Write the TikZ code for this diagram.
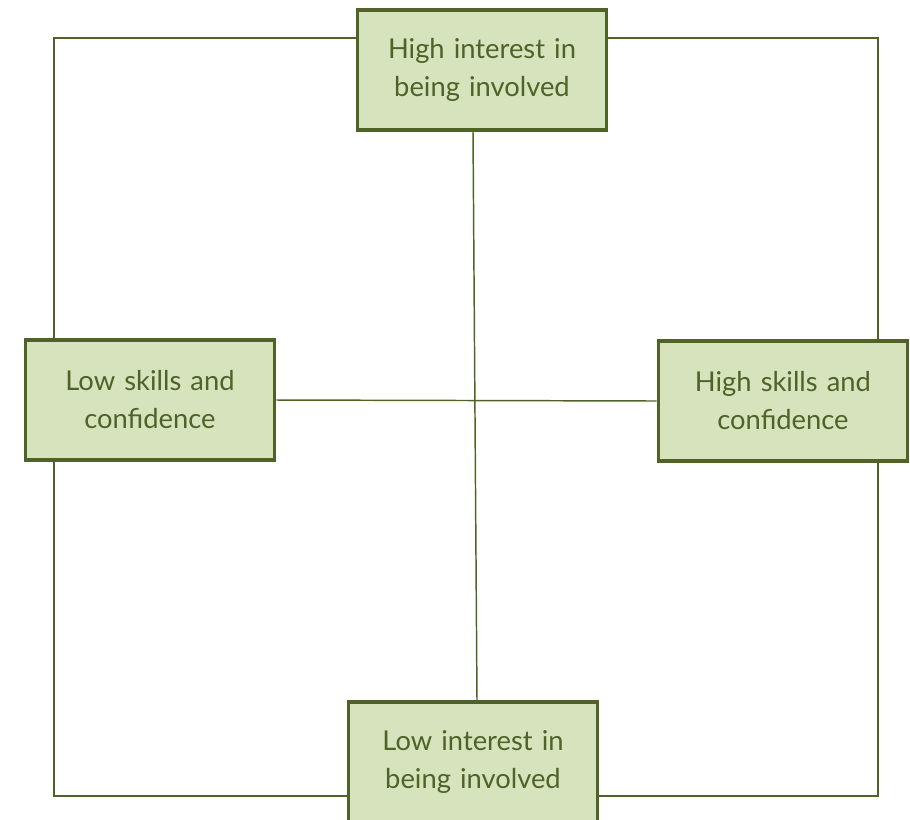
\documentclass[tikz,border=0pt]{standalone}
\usepackage{fontspec}
\setmainfont{Lato}
\definecolor{boxline}{HTML}{4F6228}
\definecolor{boxfill}{HTML}{D6E3BC}

\begin{document}
\begin{tikzpicture}[x=0.75pt,y=-0.75pt,
    box/.style={draw=boxline,fill=boxfill,line width=2.4pt,
        minimum width=187pt,minimum height=90pt,text width=175pt,
        align=center,text=boxline,font=\fontsize{20.5}{28.5}\selectfont},
    link/.style={draw=boxline,line width=1.1pt}]
    \useasboundingbox (0,0) rectangle (910,819);

    % Cadre extérieur
    \coordinate (frameNW) at (54,38);
    \coordinate (frameSE) at (878,796);
    \draw[link] (frameNW) rectangle (frameSE);

    % Boîtes
    \node[box] (highInt) at (482,70) {High interest in\\being involved};
    \node[box] (lowSkill) at (150,400) {Low skills and\\confidence};
    \node[box] (highSkill) at (783,401) {High skills and\\confidence};
    \node[box] (lowInt) at (473,762) {Low interest in\\being involved};

    % Axes
    \draw[link] ([xshift=-6.75pt]highInt.south) -- ([xshift=3pt]lowInt.north);
    \draw[link] (lowSkill.east) -- (highSkill.west);
\end{tikzpicture}
\end{document}
